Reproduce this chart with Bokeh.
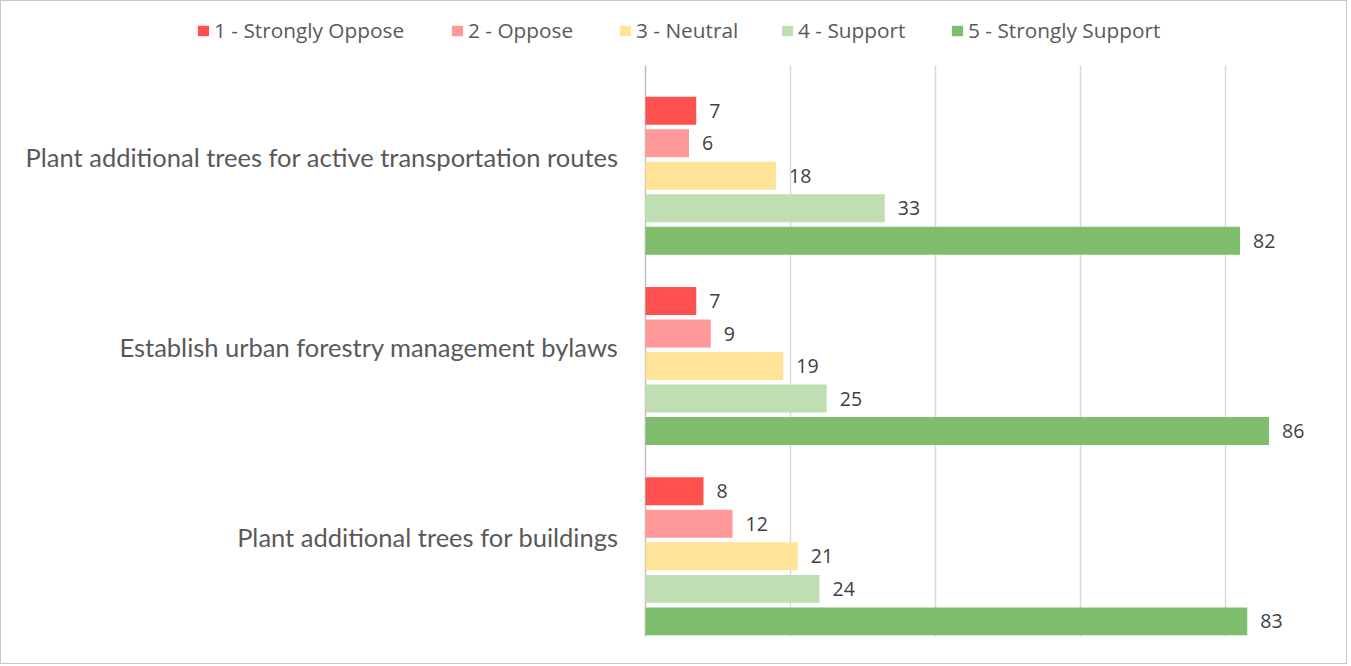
from bokeh.plotting import figure
from bokeh.models import Range1d, ColumnDataSource, Legend, LegendItem
from bokeh.core.properties import value
from bokeh.embed import file_html
from bokeh.resources import INLINE

categories = [
    "Plant additional trees for active transportation routes",
    "Establish urban forestry management bylaws",
    "Plant additional trees for buildings",
]
series_names = ["1 - Strongly Oppose", "2 - Oppose", "3 - Neutral", "4 - Support", "5 - Strongly Support"]
strongly_oppose = [7, 7, 8]
oppose = [6, 9, 12]
neutral = [18, 19, 21]
support = [33, 25, 24]
strongly_support = [82, 86, 83]
grid_ticks = [20, 40, 60, 80]

series_values = [strongly_oppose, oppose, neutral, support, strongly_support]
colors = ["#FF5050", "#FF9898", "#FFE498", "#BFDFB3", "#7EBD6B"]

# layout constants (pixels / units)
PX_X = 7.25          # px per value unit
PX_Y = 190.33        # px per category band
W, H = 1347, 664
ZERO_X = 644         # canvas px of value 0
TOP_Y = 64           # canvas px of the top of the first band
GROUP_OFFSET = 0.079
PITCH = 0.1708
BAR_H = 0.147
LEGEND_X = [195, 449, 617, 779, 949]

x0 = -ZERO_X / PX_X
y_top = -TOP_Y / PX_Y
p = figure(width=W, height=H, output_backend="svg", toolbar_location=None,
           x_range=Range1d(x0, x0 + W / PX_X),
           y_range=Range1d(y_top + H / PX_Y, y_top),
           x_axis_location=None, y_axis_location=None,
           min_border=0)
p.outline_line_color = None
p.xgrid.visible = False
p.ygrid.visible = False
p.background_fill_color = "white"
p.border_fill_color = "white"
p.styles = {"border": "1px solid #C8C8C8"}

n = len(categories)
# gridlines and axis line
p.segment(x0=grid_ticks, x1=grid_ticks, y0=[0] * len(grid_ticks), y1=[n] * len(grid_ticks),
          line_color="#D9D9D9", line_width=1.5)
p.segment(x0=[0], x1=[0], y0=[0], y1=[n], line_color="#BFBFBF", line_width=1.5)

# category labels
p.text(x=[0] * n, y=[i + 0.5 for i in range(n)], text=categories, x_offset=-27, y_offset=-4,
       text_align="right", text_baseline="middle",
       text_font=value("Lato"), text_font_size="25.5px", text_color="#595959")

renderers = []
for j, (name, vals, col) in enumerate(zip(series_names, series_values, colors)):
    ys = [i + 0.5 + GROUP_OFFSET + (j - 2) * PITCH for i in range(n)]
    src = ColumnDataSource(dict(y=ys, v=vals, lab=[str(v) for v in vals]))
    r = p.hbar(y="y", left=0, right="v", height=BAR_H, source=src,
               fill_color=col, line_color=None)
    renderers.append(r)
    p.text(x="v", y="y", text="lab", source=src, x_offset=13,
           text_align="left", text_baseline="middle",
           text_font=value("Open Sans"), text_font_size="19.5px", text_color="#404040")

for name, r, lx in zip(series_names, renderers, LEGEND_X):
    lg = Legend(items=[LegendItem(label=name, renderers=[r])], location=(lx, H - 43))
    lg.padding = 0
    lg.margin = 0
    lg.border_line_color = None
    lg.background_fill_alpha = 0
    lg.glyph_width = 14
    lg.glyph_height = 13
    lg.label_height = 20
    lg.label_standoff = 4
    lg.label_text_font = "Open Sans"
    lg.label_text_font_size = "20.8px"
    lg.label_text_color = "#595959"
    p.add_layout(lg, "center")

open("out.html", "w").write(file_html(p, INLINE))
